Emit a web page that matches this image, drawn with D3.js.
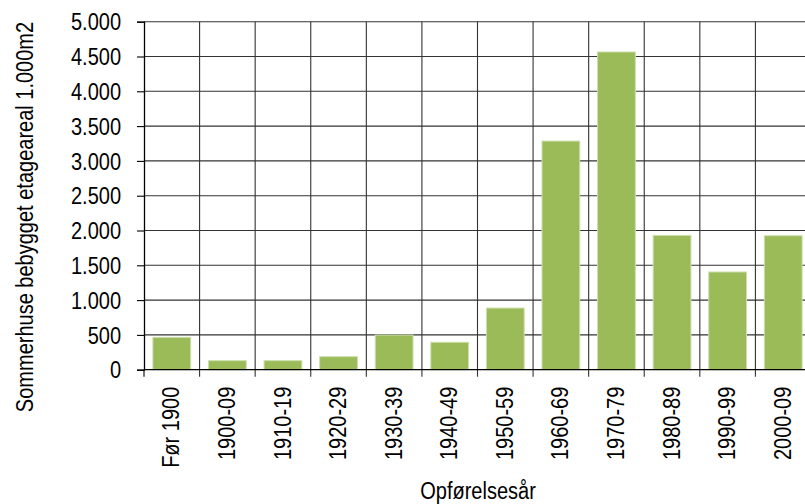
<!DOCTYPE html>
<html>
<head>
<meta charset="utf-8">
<script src="https://cdn.jsdelivr.net/npm/d3@7"></script>
<style>
  html, body { margin: 0; padding: 0; background: #fff; }
  text { font-family: "Liberation Sans", Arial, sans-serif; fill: #000; }
</style>
</head>
<body>
<svg id="chart" width="805" height="504"></svg>
<script>
const categories = ["Før 1900", "1900-09", "1910-19", "1920-29", "1930-39", "1940-49",
                    "1950-59", "1960-69", "1970-79", "1980-89", "1990-99", "2000-09"];
const values = [465, 130, 130, 187, 498, 394, 886, 3285, 4565, 1930, 1404, 1925];
const yTicks = [0, 500, 1000, 1500, 2000, 2500, 3000, 3500, 4000, 4500, 5000];
const yTitle = "Sommerhuse bebygget etageareal 1.000m2";
const xTitle = "Opførelsesår";

const W = 805, H = 504;
const margin = { left: 144, top: 21.7, right: -6, bottom: 134.3 };
const FS = 23, SX = 0.87;

const svg = d3.select("#chart");
const x = d3.scaleBand().domain(categories).range([margin.left, W - margin.right]).padding(0);
const y = d3.scaleLinear().domain([0, 5000]).range([H - margin.bottom, margin.top]);
const loc = d3.formatLocale({ decimal: ",", thousands: ".", grouping: [3], currency: ["", " kr"] });
const fmt = loc.format(",d");

const y0 = y(0);
const bw = x.bandwidth();

// horizontal gridlines
svg.append("g").selectAll("line").data(yTicks.filter(d => d > 0)).join("line")
  .attr("x1", margin.left).attr("x2", W)
  .attr("y1", d => y(d)).attr("y2", d => y(d))
  .attr("stroke", "#333").attr("stroke-width", 1.1);

// vertical gridlines (also serve as x ticks)
const bounds = categories.slice(1).map(c => x(c)).concat([x(categories[categories.length - 1]) + bw]);
svg.append("g").selectAll("line").data(bounds).join("line")
  .attr("x1", d => d).attr("x2", d => d)
  .attr("y1", y(5000)).attr("y2", y0 + 7)
  .attr("stroke", "#333").attr("stroke-width", 1.1);

// bars
const barW = bw * 0.68;
svg.append("g").selectAll("rect").data(values).join("rect")
  .attr("x", (d, i) => x(categories[i]) + (bw - barW) / 2)
  .attr("width", barW)
  .attr("y", d => y(d))
  .attr("height", d => y0 - y(d))
  .attr("fill", "#9BBB59")
  .attr("stroke", "#cddfae").attr("stroke-width", 1);

// y axis
const yAxis = svg.append("g").attr("transform", `translate(${margin.left},0)`)
  .call(d3.axisLeft(y).tickValues(yTicks).tickFormat(fmt).tickSize(7).tickPadding(16));
yAxis.select(".domain").attr("stroke", "#000").attr("stroke-width", 1.3);
yAxis.selectAll(".tick line").attr("stroke", "#000").attr("stroke-width", 1.1);
yAxis.selectAll(".tick text")
  .style("font-size", FS + "px").style("font-family", '"Liberation Sans", Arial, sans-serif')
  .attr("fill", "#000")
  .attr("x", -23 / SX).attr("dy", "0.36em")
  .attr("transform", `scale(${SX},1)`);

// x axis
const xAxis = svg.append("g").attr("transform", `translate(0,${y0})`)
  .call(d3.axisBottom(x).tickSize(0).tickSizeOuter(0));
xAxis.select(".domain").attr("stroke", "#000").attr("stroke-width", 1.3)
  .attr("d", `M${margin.left},0H${W}`);
xAxis.selectAll(".tick text")
  .style("font-size", FS + "px").style("font-family", '"Liberation Sans", Arial, sans-serif')
  .attr("fill", "#000")
  .attr("text-anchor", "end")
  .attr("x", -17 / SX).attr("y", 0).attr("dy", "0.33em")
  .attr("transform", `rotate(-90) scale(${SX},1)`);

// left tick at origin bottom
svg.append("line").attr("x1", margin.left).attr("x2", margin.left)
  .attr("y1", y0).attr("y2", y0 + 7).attr("stroke", "#000").attr("stroke-width", 1.1);

// titles
svg.append("text")
  .attr("transform", `translate(33,217) rotate(-90) scale(${SX},1)`)
  .attr("text-anchor", "middle")
  .style("font-size", FS + "px")
  .text(yTitle);

svg.append("text")
  .attr("transform", `translate(478,499) scale(${SX},1)`)
  .attr("text-anchor", "middle")
  .style("font-size", FS + "px")
  .text(xTitle);
</script>
</body>
</html>
